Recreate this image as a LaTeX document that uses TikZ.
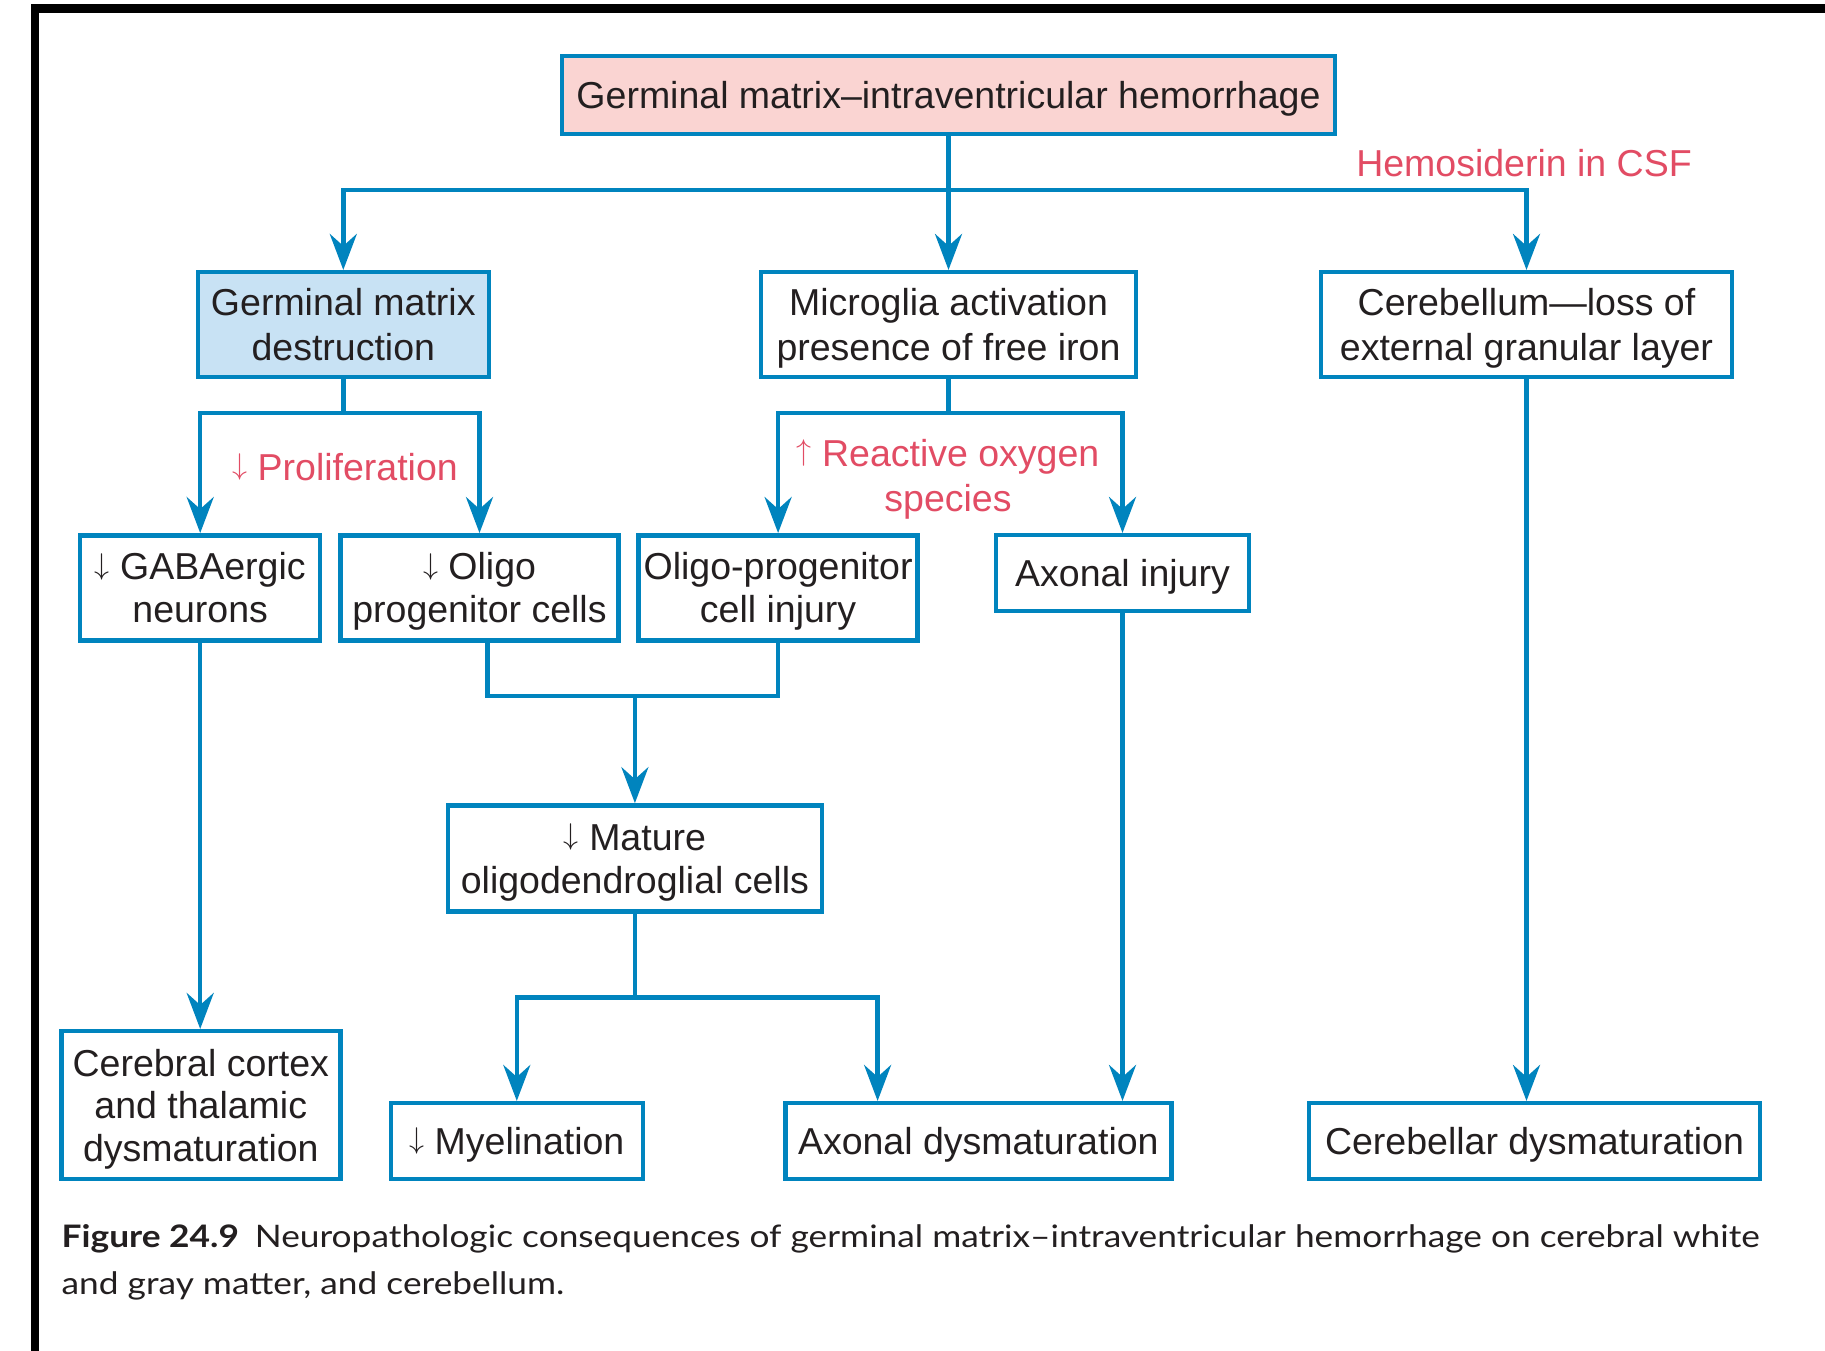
\RequirePackage{fix-cm}
\documentclass[tikz,border=0pt]{standalone}
\usepackage{fontspec}
\setmainfont{Liberation Sans}
\newfontfamily\capfont{Lato}
\usetikzlibrary{arrows.meta}
\definecolor{bblue}{RGB}{0,132,190}
\definecolor{pinkf}{RGB}{250,212,210}
\definecolor{lbluef}{RGB}{200,226,244}
\definecolor{redt}{RGB}{226,76,100}
\definecolor{tcol}{RGB}{35,31,32}
\newlength\capw
\newcommand{\boxfont}{\fontsize{37.5}{43}\selectfont}
\newcommand{\lvtwofont}{\fontsize{37.5}{45}\selectfont}
\newcommand{\capsz}{\capfont\fontsize{31}{47}\selectfont}
\newcommand{\darr}{\raisebox{0.155em}{\scalebox{0.8}{$\downarrow$}}}
\newcommand{\uarr}{\raisebox{0.155em}{\scalebox{0.8}{$\uparrow$}}}
\newcommand{\capone}{\textbf{Figure 24.9}\hspace{0.45em}Neuropathologic consequences of germinal matrix–intraventricular hemorrhage on cerebral white}
\newsavebox\capbox
\AtBeginDocument{%
  \sbox\capbox{\capsz\capone}%
  \setlength\capw{\wd\capbox}%
  \pgfmathsetmacro\capsx{1698/\capw}%
  \xdef\capsx{\capsx}}
\begin{document}
\begin{tikzpicture}[x=1pt,y=-1pt,
  box/.style={draw=bblue, line width=4.5pt, inner sep=0pt, align=center, text=tcol, font=\boxfont, text depth=0pt},
  lvtwo/.style={box, font=\lvtwofont, minimum height=105},
  lbl/.style={inner sep=0pt, text=redt, font=\lvtwofont, align=center, text depth=0pt},
  conn/.style={draw=bblue, line width=4.5pt},
  arr/.style={conn, -{Stealth[length=36pt,width=27pt,inset=12pt]}}]
\useasboundingbox (0,0) rectangle (1825,1351);
\fill[white] (0,0) rectangle (1825,1351);
% frame
\draw[line width=8.5pt, line join=miter] (35,1351) -- (35,8.5) -- (1825,8.5);
% nodes
\node[box, fill=pinkf, minimum width=773, minimum height=78] (top) at (948.5,95) {Germinal matrix–intraventricular hemorrhage};
\node[lvtwo, fill=lbluef, minimum width=291] (gmd) at (343.3,324.7) {Germinal matrix\\destruction};
\node[lvtwo, minimum width=375] (micro) at (948.5,324.7) {Microglia activation\\presence of free iron};
\node[lvtwo, minimum width=411] (cereb) at (1526.5,324.7) {Cerebellum—loss of\\external granular layer};
\node[box, minimum width=240, minimum height=105] (gaba) at (200.2,587.8) {\darr{} GABAergic\\neurons};
\node[box, minimum width=278, minimum height=105] (opc) at (479.5,587.8) {\darr{} Oligo\\progenitor cells};
\node[box, minimum width=279, minimum height=105] (opci) at (778.1,587.8) {Oligo-progenitor\\cell injury};
\node[box, minimum width=253, minimum height=76] (axinj) at (1122.5,573.2) {Axonal injury};
\node[box, minimum width=374, minimum height=106] (mature) at (634.9,858.4) {\darr{} Mature\\oligodendroglial cells};
\node[box, minimum width=279, minimum height=148, font=\fontsize{37.5}{42.5}\selectfont] (cortex) at (200.8,1105.2) {Cerebral cortex\\and thalamic\\dysmaturation};
\node[box, minimum width=252, minimum height=76] (myel) at (516.8,1141.2) {\darr{} Myelination};
\node[box, minimum width=386, minimum height=76] (axdys) at (978.3,1141.2) {Axonal dysmaturation};
\node[box, minimum width=451, minimum height=76] (cbdys) at (1534.5,1141.2) {Cerebellar dysmaturation};
% labels
\node[lbl] (hemo) at (1524,163) {Hemosiderin in CSF};
\node[lbl] (prolif) at (345,467) {\darr{} Proliferation};
\node[lbl] (ros) at (948,475) {\uarr{} Reactive oxygen\\species};
% connectors
\coordinate (h1) at (0,190);
\coordinate (h2) at (0,413);
\coordinate (h3) at (0,696);
\coordinate (h4) at (0,997.5);
\draw[arr] (top.south) -- (micro.north);
\draw[arr] (top.south |- h1) -| (gmd.north);
\draw[arr] (top.south |- h1) -| (cereb.north);
\draw[conn] (gmd.south) -- (gmd.south |- h2);
\draw[arr] (gmd.south |- h2) -| (gaba.north);
\draw[arr] (gmd.south |- h2) -| (opc.north);
\draw[conn] (micro.south) -- (micro.south |- h2);
\draw[arr] (micro.south |- h2) -| (opci.north);
\draw[arr] (micro.south |- h2) -| (axinj.north);
\draw[conn] ([xshift=8pt]opc.south) |- (opci.south |- h3) -- (opci.south);
\draw[arr] (mature.north |- h3) -- (mature.north);
\draw[conn] (mature.south) -- (mature.south |- h4);
\draw[arr] (mature.south |- h4) -| (myel.north);
\draw[arr] (mature.south |- h4) -| ([xshift=-100.7pt]axdys.north);
\draw[arr] (gaba.south) -- (gaba.south |- cortex.north);
\draw[arr] (axinj.south) -- (axinj.south |- axdys.north);
\draw[arr] (cereb.south) -- (cereb.south |- cbdys.north);
% caption
\node[anchor=base west, inner sep=0pt, text=tcol] (cap1) at (61.5,1247) {\scalebox{\capsx}[1]{\capsz\capone}};
\node[anchor=base west, inner sep=0pt, text=tcol] (cap2) at (61.5,1294) {\scalebox{\capsx}[1]{\capsz and gray matter, and cerebellum.}};
\end{tikzpicture}
\end{document}
